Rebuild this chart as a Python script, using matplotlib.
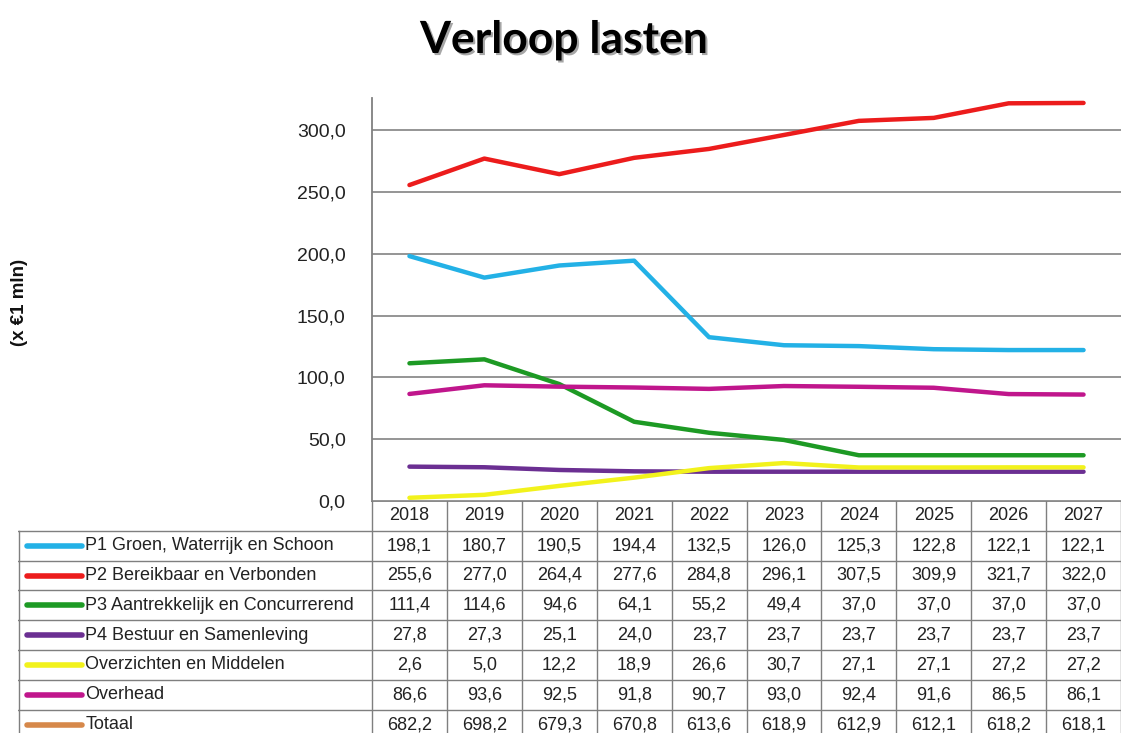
import numpy as np
import matplotlib
matplotlib.use("Agg")
import matplotlib.pyplot as plt
import matplotlib.patheffects as pe

years = ["2018", "2019", "2020", "2021", "2022", "2023", "2024", "2025", "2026", "2027"]

series_names = [
    "P1 Groen, Waterrijk en Schoon",
    "P2 Bereikbaar en Verbonden",
    "P3 Aantrekkelijk en Concurrerend",
    "P4 Bestuur en Samenleving",
    "Overzichten en Middelen",
    "Overhead",
    "Totaal",
]
p1 = [198.1, 180.7, 190.5, 194.4, 132.5, 126.0, 125.3, 122.8, 122.1, 122.1]
p2 = [255.6, 277.0, 264.4, 277.6, 284.8, 296.1, 307.5, 309.9, 321.7, 322.0]
p3 = [111.4, 114.6, 94.6, 64.1, 55.2, 49.4, 37.0, 37.0, 37.0, 37.0]
p4 = [27.8, 27.3, 25.1, 24.0, 23.7, 23.7, 23.7, 23.7, 23.7, 23.7]
overz = [2.6, 5.0, 12.2, 18.9, 26.6, 30.7, 27.1, 27.1, 27.2, 27.2]
overhead = [86.6, 93.6, 92.5, 91.8, 90.7, 93.0, 92.4, 91.6, 86.5, 86.1]
totaal = [682.2, 698.2, 679.3, 670.8, 613.6, 618.9, 612.9, 612.1, 618.2, 618.1]

colors = ["#23b1e6", "#ec1c1c", "#1d9a24", "#6b2f92", "#f2f21c", "#c0168c", "#d6884a"]
all_series = [p1, p2, p3, p4, overz, overhead, totaal]

plt.rcParams['font.family'] = ['Liberation Sans', 'DejaVu Sans']

W, H = 1121, 733
fig = plt.figure(figsize=(W / 100, H / 100), dpi=100)

# pixel layout
x_left, x_right = 372, 1121
y_top, y_axis = 98, 501
row_h = 29.8
leg_left = 18
colw = (x_right - x_left) / 10

ax = fig.add_axes([x_left / W, (H - y_axis) / H, (x_right - x_left) / W, (y_axis - y_top) / H])
x = np.arange(len(years))
for vals, c in zip(all_series, colors):
    ax.plot(x, vals, color=c, lw=3.2, solid_capstyle='round')
ax.set_xlim(-0.5, 9.5)
ax.set_ylim(0, 326)
ax.set_yticks(np.arange(0, 301, 50))
ax.set_yticklabels([f"{v:.1f}".replace(".", ",") for v in np.arange(0, 301, 50)], fontsize=14)
ax.set_xticks([])
ax.tick_params(axis='y', length=0, pad=19, colors='#222222')
ax.grid(axis='y', color='#8c8c8c', lw=1.3)
ax.set_axisbelow(True)
for s in ['top', 'right', 'bottom']:
    ax.spines[s].set_visible(False)
ax.spines['left'].set_color('#808080')
ax.spines['left'].set_linewidth(1.3)

# data table below the axis
tab = fig.add_axes([leg_left / W, 0, (x_right - leg_left) / W, (H - y_axis) / H])
x0 = -0.5 - (x_left - leg_left) / colw
tab.set_xlim(x0, 9.5)
ybot = (H - y_axis) / row_h
tab.set_ylim(ybot, 0)
tab.axis('off')
lc = '#7f7f7f'
tab.plot([-0.5, 9.5], [0, 0], color=lc, lw=1.3)
for k in range(11):
    tab.plot([-0.5 + k, -0.5 + k], [0, ybot], color=lc, lw=1)
tab.plot([x0 + 0.01, x0 + 0.01], [1, ybot], color=lc, lw=1)
for r in range(1, 8):
    tab.plot([x0, 9.5], [r, r], color=lc, lw=1)
fs = 13
for i, yr in enumerate(years):
    tab.text(i, 0.5, yr, ha='center', va='center', fontsize=fs, color='#222222')
for r, (name, vals, c) in enumerate(zip(series_names, all_series, colors), start=1):
    yc = r + 0.5
    tab.plot([x0 + 0.12, x0 + 0.85], [yc, yc], color=c, lw=4, solid_capstyle='round')
    tab.text(x0 + 0.9, yc, name, ha='left', va='center', fontsize=fs, color='#222222')
    for i, v in enumerate(vals):
        tab.text(i, yc, f"{v:.1f}".replace(".", ","), ha='center', va='center',
                 fontsize=fs, color='#222222')

fig.text(20 / W, 1 - 302 / H, "(x €1 mln)", rotation=90, ha='center', va='center',
         fontsize=13.5, fontweight='bold', color='#111111')
fig.text(564 / W, 1 - 40 / H, "Verloop lasten", ha='center', va='center',
         fontsize=32, fontweight='bold', family=['Lato', 'DejaVu Sans'],
         path_effects=[pe.withSimplePatchShadow(offset=(1.5, -1.5), alpha=0.35)])

fig.savefig("out.png", dpi=100)
